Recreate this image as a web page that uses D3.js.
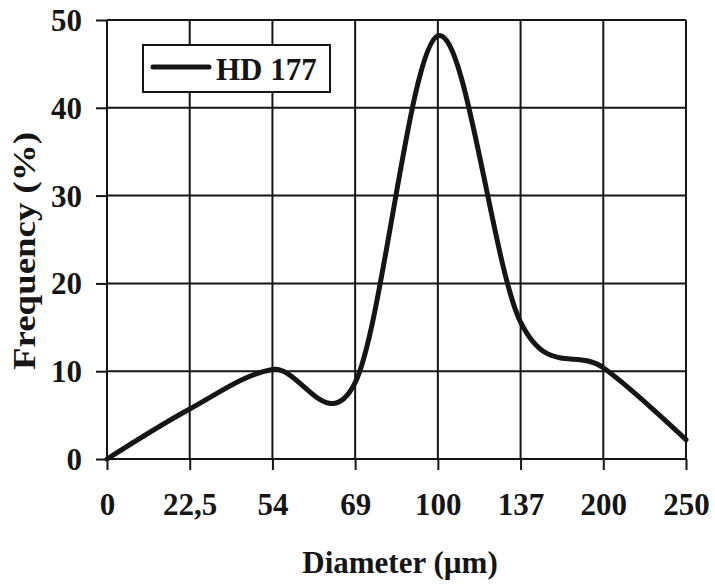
<!DOCTYPE html>
<html>
<head>
<meta charset="utf-8">
<script src="https://cdn.jsdelivr.net/npm/d3@7"></script>
<style>
  body { margin: 0; background: #fff; }
  svg text { font-family: "Liberation Serif", "Times New Roman", serif; font-weight: bold; fill: #151515; }
</style>
</head>
<body>
<div id="chart"></div>
<script>
// ============================================
// DATA
// ============================================
const diameters = ["0", "22,5", "54", "69", "100", "137", "200", "250"];
const frequency = [0, 5.7, 10.2, 8.7, 48.2, 15.6, 10.4, 2.2];
const yTicks = [0, 10, 20, 30, 40, 50];
const seriesName = "HD 177";

// ============================================
// LAYOUT
// ============================================
const width = 715;
const height = 586;
const margins = { top: 20, right: 29, bottom: 127, left: 107 };
const innerW = width - margins.left - margins.right;
const innerH = height - margins.top - margins.bottom;
const fontSize = "31px";

const svg = d3
  .select("#chart")
  .append("svg")
  .attr("width", width)
  .attr("height", height);

const g = svg
  .append("g")
  .attr("transform", `translate(${margins.left},${margins.top})`);

const x = d3.scalePoint().domain(diameters).range([0, innerW]);
const y = d3.scaleLinear().domain([0, 50]).range([innerH, 0]);

const ink = "#151515";

// grid
g.selectAll(".hgrid")
  .data(yTicks)
  .join("line")
  .attr("x1", 0)
  .attr("x2", innerW)
  .attr("y1", (d) => y(d))
  .attr("y2", (d) => y(d))
  .attr("stroke", ink)
  .attr("stroke-width", 2);

g.selectAll(".vgrid")
  .data(diameters)
  .join("line")
  .attr("x1", (d) => x(d))
  .attr("x2", (d) => x(d))
  .attr("y1", 0)
  .attr("y2", innerH)
  .attr("stroke", ink)
  .attr("stroke-width", 2);

// axes
const xAxis = g
  .append("g")
  .attr("transform", `translate(0,${innerH})`)
  .call(d3.axisBottom(x).tickSize(11).tickPadding(23));
const yAxis = g
  .append("g")
  .call(d3.axisLeft(y).tickValues(yTicks).tickSize(11).tickPadding(14));

[xAxis, yAxis].forEach((ax) => {
  ax.select(".domain").remove();
  ax.selectAll(".tick line").attr("stroke", ink).attr("stroke-width", 2);
  ax.selectAll(".tick text").style("font-size", fontSize).attr("fill", ink);
});
yAxis.selectAll(".tick text").attr("dy", "0.34em");

// curve (smoothed like the spreadsheet line)
const line = d3
  .line()
  .x((d, i) => x(diameters[i]))
  .y((d) => y(d))
  .curve(d3.curveCardinal.tension(0));

g.append("path")
  .datum(frequency)
  .attr("d", line)
  .attr("fill", "none")
  .attr("stroke", ink)
  .attr("stroke-width", 5)
  .attr("stroke-linejoin", "round")
  .attr("stroke-linecap", "round");

// legend
const legend = svg.append("g").attr("transform", "translate(143,45)");
legend
  .append("rect")
  .attr("width", 187)
  .attr("height", 47)
  .attr("fill", "#fff")
  .attr("stroke", ink)
  .attr("stroke-width", 2);
legend
  .append("line")
  .attr("x1", 10)
  .attr("x2", 66)
  .attr("y1", 22)
  .attr("y2", 22)
  .attr("stroke", ink)
  .attr("stroke-width", 5)
  .attr("stroke-linecap", "round");
legend
  .append("text")
  .attr("x", 73)
  .attr("y", 35)
  .style("font-size", fontSize)
  .text(seriesName);

// axis titles
svg
  .append("text")
  .attr("x", 400)
  .attr("y", 573)
  .attr("text-anchor", "middle")
  .style("font-size", fontSize)
  .text("Diameter (\u00b5m)");

svg
  .append("text")
  .attr("transform", "translate(35,251) rotate(-90)")
  .attr("text-anchor", "middle")
  .attr("textLength", 238)
  .attr("lengthAdjust", "spacingAndGlyphs")
  .style("font-size", fontSize)
  .text("Frequency (%)");
</script>
</body>
</html>
